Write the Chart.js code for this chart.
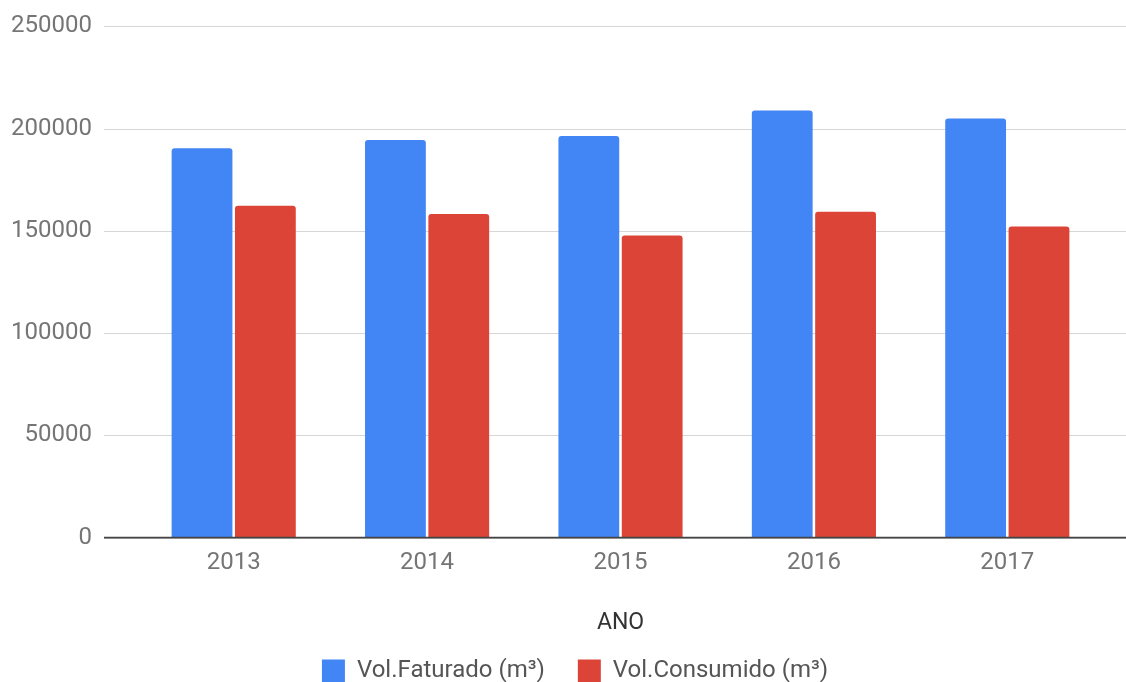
<!DOCTYPE html>
<html>
<head>
<meta charset="utf-8">
<script src="https://cdn.jsdelivr.net/npm/chart.js@4"></script>
<style>
  html, body { margin: 0; padding: 0; background: #fff; }
  #wrap { width: 1126px; height: 682px; }
</style>
</head>
<body>
<div id="wrap"><canvas id="grafico" width="1126" height="682"></canvas></div>
<script>
// Dados
const anos = ['2013', '2014', '2015', '2016', '2017'];
const volFaturado = [190400, 194400, 196400, 208900, 205000];
const volConsumido = [162300, 158200, 147700, 159400, 152200];
const ticksY = [0, 50000, 100000, 150000, 200000, 250000];

const AZUL = '#4285F4';
const VERMELHO = '#DB4437';
const FONTE = 'Roboto, "Noto Sans", sans-serif';

// linhas de grade que passam da área do gráfico (estilo Google Charts)
const gradeLonga = {
  id: 'gradeLonga',
  afterLayout(chart) {
    // legenda um pouco à direita, como no original
    if (chart.legend) {
      chart.legend.left += 23;
      chart.legend.right += 23;
    }
  },
  beforeDatasetsDraw(chart) {
    const ctx = chart.ctx;
    const y = chart.scales.y;
    const esq = chart.chartArea.left - 33;
    const dir = chart.width;
    ctx.save();
    ticksY.forEach(v => {
      const py = Math.round(y.getPixelForValue(v)) + 0.5;
      ctx.beginPath();
      ctx.strokeStyle = '#d6d6d6';
      ctx.lineWidth = 1.2;
      ctx.moveTo(esq, py);
      ctx.lineTo(dir, py);
      ctx.stroke();
    });
    ctx.restore();
  },
  afterDatasetsDraw(chart) {
    // linha base escura no zero
    const ctx = chart.ctx;
    const py = chart.scales.y.getPixelForValue(0);
    ctx.save();
    ctx.beginPath();
    ctx.strokeStyle = '#444';
    ctx.lineWidth = 1.6;
    ctx.moveTo(chart.chartArea.left - 33, py);
    ctx.lineTo(chart.width, py);
    ctx.stroke();
    ctx.restore();
  }
};

new Chart(document.getElementById('grafico'), {
  type: 'bar',
  data: {
    labels: anos,
    datasets: [
      {
        label: 'Vol.Faturado (m³)',
        data: volFaturado,
        backgroundColor: AZUL,
        borderRadius: { topLeft: 3, topRight: 3 },
        borderSkipped: 'bottom',
        barPercentage: 0.96,
        categoryPercentage: 0.655
      },
      {
        label: 'Vol.Consumido (m³)',
        data: volConsumido,
        backgroundColor: VERMELHO,
        borderRadius: { topLeft: 3, topRight: 3 },
        borderSkipped: 'bottom',
        barPercentage: 0.96,
        categoryPercentage: 0.655
      }
    ]
  },
  options: {
    responsive: false,
    animation: false,
    layout: { padding: { top: 0, right: 22, left: 0, bottom: -11 } },
    plugins: {
      tooltip: { enabled: false },
      legend: {
        position: 'bottom',
        labels: {
          boxWidth: 23,
          boxHeight: 23,
          padding: 33,
          color: '#555',
          font: { family: FONTE, size: 24 }
        }
      }
    },
    scales: {
      x: {
        grid: { display: false, drawTicks: false },
        border: { display: false },
        ticks: { color: '#757575', padding: 11, font: { family: FONTE, size: 24 } },
        title: {
          display: true,
          text: 'ANO',
          color: '#333',
          padding: { top: 21, bottom: -11 },
          font: { family: FONTE, size: 23 }
        }
      },
      y: {
        min: 0,
        max: 250000,
        grid: { display: true, drawOnChartArea: false, drawTicks: true, tickLength: 33, color: 'rgba(0,0,0,0)' },
        border: { display: false },
        afterFit(scale) { scale.width = 137; },
        afterBuildTicks(scale) { scale.ticks = ticksY.map(v => ({ value: v })); },
        ticks: {
          color: '#757575',
          padding: 12,
          font: { family: FONTE, size: 24 },
          callback: v => String(v)
        }
      }
    }
  },
  plugins: [gradeLonga]
});
</script>
</body>
</html>
